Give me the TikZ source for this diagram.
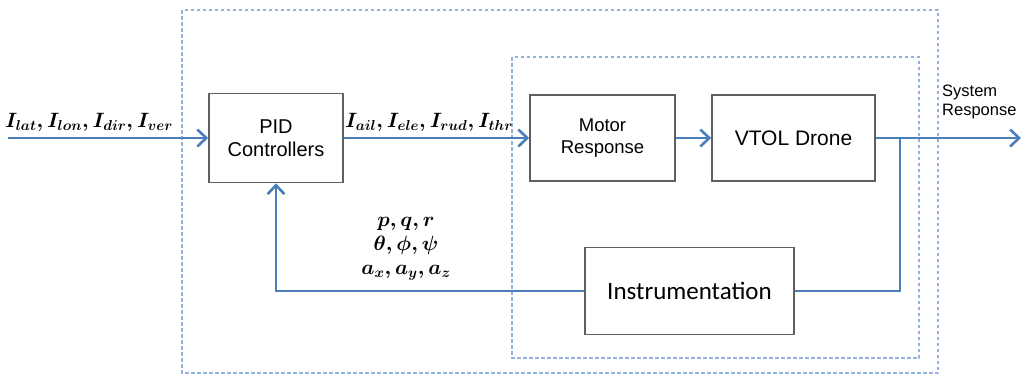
\documentclass[tikz,border=0pt]{standalone}
\usepackage{fontspec}
\setmainfont{Liberation Sans}
\newfontfamily\calfont{Carlito}
\usetikzlibrary{arrows.meta}
\definecolor{sigblue}{HTML}{4A7EBB}
\definecolor{framblue}{HTML}{93B1DC}
\definecolor{boxgray}{HTML}{5F5F5F}
\tikzset{
  blockbox/.style={draw=boxgray, line width=1.6pt, fill=white, align=center,
    font=\fontsize{20}{23}\selectfont, inner sep=0pt},
  sigline/.style={draw=sigblue, line width=2.6pt},
  sigarrow/.style={sigline, -{Straight Barb[length=9pt,width=17pt,line width=2.6pt]}},
  frame/.style={draw=framblue, line width=1.5pt, dash pattern=on 3.5pt off 2.5pt},
  siglabel/.style={font=\fontsize{19.5}{24}\selectfont\boldmath, align=center, inner sep=0pt}
}
\begin{document}
\begin{tikzpicture}[x=1pt, y=-1pt]
\useasboundingbox (0,0) rectangle (1024,376);
\draw[frame] (182,10) rectangle (938,373);      % whole system
\draw[frame] (512,57) rectangle (919,358);      % plant
\node[blockbox, minimum width=134pt, minimum height=89pt] (pid) at (276,138) {PID\\Controllers};
\node[blockbox, minimum width=145pt, minimum height=86pt, font=\fontsize{18.5}{22}\selectfont] (motor) at (602.5,138) {Motor\\Response};
\node[blockbox, minimum width=163pt, minimum height=86pt, font=\fontsize{21}{24}\selectfont] (drone) at (793.5,138) {VTOL Drone};
\node[blockbox, minimum width=209pt, minimum height=87pt, font=\calfont\fontsize{25}{28}\selectfont] (instr) at (689.5,291) {Instrumentation};
\coordinate (in) at (8,138);
\coordinate (out) at (1021,138);
\coordinate (tap) at (900,138);
\draw[sigarrow] (in) -- (pid.west);
\draw[sigarrow] (pid.east) -- (motor.west);
\draw[sigarrow] (motor.east) -- (drone.west);
\draw[sigarrow] (drone.east) -- (out);
\draw[sigline] (tap) |- (instr.east);
\draw[sigarrow] (instr.west) -| (pid.south);
\node[siglabel, anchor=south west] (lin) at (5,132) {$I_{lat},I_{lon},I_{dir},I_{ver}$};
\node[siglabel, anchor=south west] (lcmd) at (345,132) {$I_{ail},I_{ele},I_{rud},I_{thr}$};
\node[siglabel] (lmeas) at (406,249) {$p,q,r$\\$\theta,\phi,\psi$\\$a_x,a_y,a_z$};
\node[anchor=north west, align=left, inner sep=0pt, font=\fontsize{16.5}{19}\selectfont] (lsys) at (942,85) {System\\Response};
\end{tikzpicture}
\end{document}
